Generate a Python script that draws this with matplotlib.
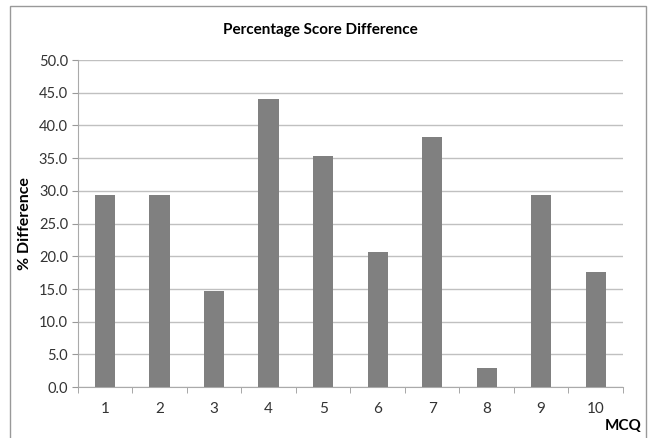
"""Percentage score difference per MCQ item, bar chart."""

import matplotlib
import matplotlib.pyplot as plt
import numpy as np
from matplotlib.patches import Rectangle

matplotlib.use("Agg")

questions = ["1", "2", "3", "4", "5", "6", "7", "8", "9", "10"]
pct_diff = [29.4, 29.4, 14.7, 44.1, 35.3, 20.6, 38.2, 2.9, 29.4, 17.6]
y_ticks = [0, 5, 10, 15, 20, 25, 30, 35, 40, 45, 50]

plt.rcParams["font.family"] = ["Lato", "DejaVu Sans"]

fig = plt.figure(figsize=(6.53, 4.38), dpi=100)
ax = fig.add_axes([0.119, 0.116, 0.835, 0.747])

x = np.arange(len(questions))
ax.bar(x, pct_diff, width=0.37, color="#808080", zorder=3)

ax.set_xlim(-0.5, len(questions) - 0.5)
ax.set_ylim(0, 50)
ax.set_yticks(y_ticks)
ax.set_yticklabels([f"{v:.1f}" for v in y_ticks], fontsize=10.5, color="#333")
ax.set_xticks(x)
ax.set_xticklabels(questions, fontsize=11, color="#333")
ax.set_xticks(np.arange(-0.5, len(questions)), minor=True)
ax.tick_params(axis="x", which="major", length=0, pad=11)
ax.tick_params(axis="x", which="minor", length=4, color="#999")
ax.tick_params(axis="y", length=4, color="#999", pad=3)

ax.grid(axis="y", color="#c0c0c0", linewidth=1.0, zorder=0)
for s in ["top", "right"]:
    ax.spines[s].set_visible(False)
for s in ["left", "bottom"]:
    ax.spines[s].set_color("#aaa")

ax.set_ylabel("% Difference", fontsize=11.5, fontweight="bold", labelpad=5)
fig.text(0.49, 0.932, "Percentage Score Difference", ha="center", va="center",
         fontsize=11, fontweight="bold")
fig.text(0.954, 0.027, "MCQ", ha="center", va="center", fontsize=11, fontweight="bold")

fig.patches.append(Rectangle((10 / 653, -0.05), 636 / 653, 1.036, transform=fig.transFigure,
                             fill=False, edgecolor="#999", linewidth=1.0))

fig.savefig("out.png", dpi=100)
